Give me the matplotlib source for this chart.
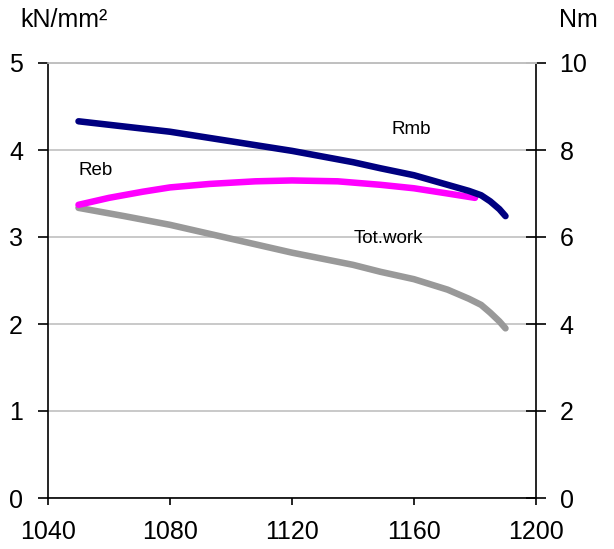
import matplotlib
matplotlib.use("Agg")
import matplotlib.pyplot as plt

plt.rcParams['font.family'] = ['Liberation Sans', 'DejaVu Sans']

# Data
rmb_x = [1050, 1080, 1100, 1120, 1140, 1149, 1160, 1170, 1178, 1182, 1185, 1188, 1190]
rmb_y = [4.33, 4.21, 4.10, 3.99, 3.86, 3.79, 3.71, 3.61, 3.53, 3.48, 3.41, 3.32, 3.24]   # kN/mm²

reb_x = [1050, 1060, 1071, 1080, 1093, 1108, 1120, 1135, 1149, 1160, 1171, 1180]
reb_y = [3.37, 3.45, 3.52, 3.57, 3.61, 3.64, 3.65, 3.64, 3.60, 3.56, 3.50, 3.45]         # kN/mm²

tot_x = [1050, 1065, 1080, 1100, 1120, 1140, 1149, 1160, 1171, 1178, 1182, 1185, 1188, 1190]
tot_y = [6.67, 6.48, 6.28, 5.96, 5.64, 5.36, 5.20, 5.03, 4.79, 4.58, 4.44, 4.26, 4.06, 3.90]   # Nm

x_ticks = [1040, 1080, 1120, 1160, 1200]
left_ticks = [0, 1, 2, 3, 4, 5]
right_ticks = [0, 2, 4, 6, 8, 10]

fig = plt.figure(figsize=(6.14, 5.49), dpi=100)
ax1 = fig.add_axes([48/614, 1-498/549, (536-48)/614, (498-63)/549])
ax2 = ax1.twinx()

# draw ax2 (grid + gray line) below ax1
ax1.set_zorder(ax2.get_zorder() + 1)
ax1.patch.set_visible(False)

grid_col = '#c0c0c0'
ax2.grid(True, color=grid_col, linewidth=1.2)
ax2.set_axisbelow(True)

kw = dict(lw=4.7, solid_capstyle='round', solid_joinstyle='round')
ax2.plot(tot_x, tot_y, color='#999999', **kw)
ax1.plot(reb_x, reb_y, color='#ff00ff', **kw)
ax1.plot(rmb_x, rmb_y, color='#000080', **kw)

ax1.set_xlim(1040, 1200)
ax1.set_ylim(0, 5)
ax2.set_ylim(0, 10)
ax1.set_xticks(x_ticks)
ax1.set_yticks(left_ticks)
ax2.set_yticks(right_ticks)

for ax in (ax1, ax2):
    for s in ax.spines.values():
        s.set_linewidth(1.2)
    ax.spines['top'].set_color(grid_col)
ax2.spines['left'].set_visible(False)
ax2.spines['bottom'].set_visible(False)
ax1.spines['right'].set_visible(False)

ax1.tick_params(axis='x', direction='out', length=5, width=1.2, pad=11, labelsize=18)
ax1.tick_params(axis='y', direction='out', length=7, width=1.2, pad=11, labelsize=18)
ax2.tick_params(axis='y', direction='inout', length=14, width=1.2, pad=10, labelsize=18)

ax1.text(1050, 3.77, 'Reb', fontsize=13.5, ha='left', va='center')
ax1.text(1159, 4.24, 'Rmb', fontsize=13.5, ha='center', va='center')
ax1.text(1151.5, 2.98, 'Tot.work', fontsize=13.5, ha='center', va='center')

fig.text(64/614, 1-20/549, 'kN/mm²', fontsize=18, ha='center', va='center')
fig.text(578/614, 1-20/549, 'Nm', fontsize=18, ha='center', va='center')

fig.savefig('out.png', dpi=100, facecolor='white')
